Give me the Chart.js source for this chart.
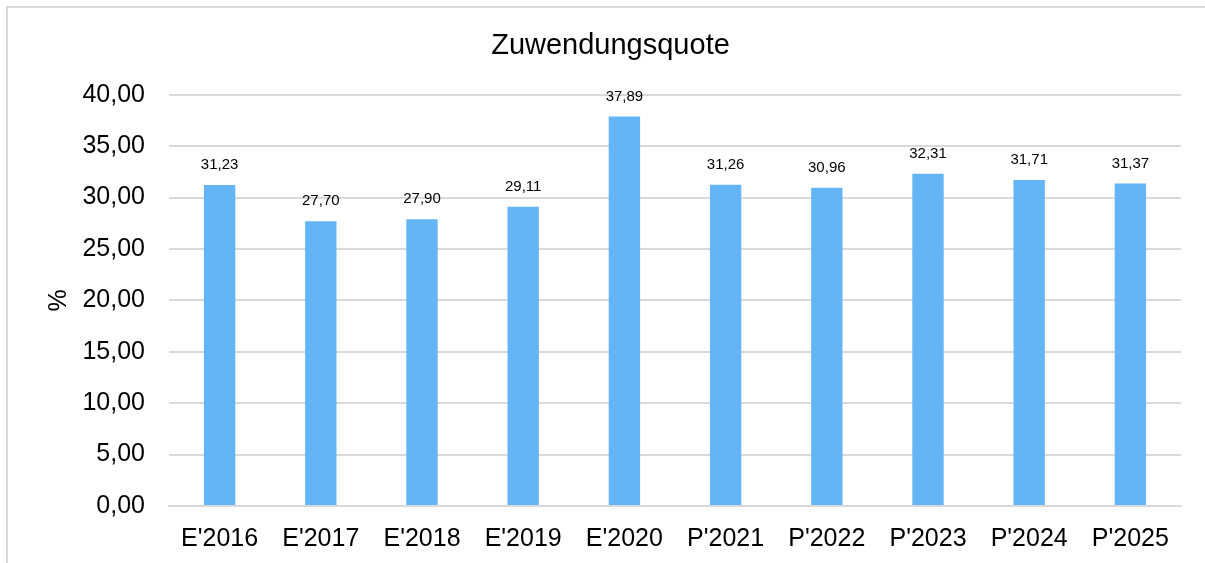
<!DOCTYPE html>
<html>
<head>
<meta charset="utf-8">
<script src="https://cdn.jsdelivr.net/npm/chart.js@4/dist/chart.umd.min.js"></script>
<style>
    html, body { margin: 0; padding: 0; background: #fff; overflow: hidden; }
    #frame {
        position: absolute; left: 6px; top: 6px; width: 1220px; height: 600px;
        border: 2px solid #d9d9d9; box-sizing: border-box;
    }
    #chart { position: absolute; left: 0; top: 0; }
</style>
</head>
<body>
<div id="frame"></div>
<canvas id="chart" width="1205" height="563"></canvas>
<script>
// Zuwendungsquote chart data
const categories = ["E'2016", "E'2017", "E'2018", "E'2019", "E'2020", "P'2021", "P'2022", "P'2023", "P'2024", "P'2025"];
const quoteValues = [31.23, 27.70, 27.90, 29.11, 37.89, 31.26, 30.96, 32.31, 31.71, 31.37];

const fmt = v => v.toFixed(2).replace('.', ',');

// Draw values above each bar
const valueLabels = {
    id: 'valueLabels',
    afterDatasetsDraw: function (chart) {
        const ctx = chart.ctx;
        const meta = chart.getDatasetMeta(0);
        ctx.save();
        ctx.font = '15px "Liberation Sans", Arial, sans-serif';
        ctx.fillStyle = '#000';
        ctx.textAlign = 'center';
        ctx.textBaseline = 'middle';
        meta.data.forEach((bar, i) => {
            ctx.fillText(fmt(quoteValues[i]), bar.x, bar.y - 20);
        });
        ctx.restore();
    }
};

new Chart(document.getElementById('chart'), {
    type: 'bar',
    data: {
        labels: categories,
        datasets: [{
            label: 'Zuwendungsquote',
            data: quoteValues,
            backgroundColor: '#63b5f6',
            borderWidth: 0,
            barPercentage: 0.31,
            categoryPercentage: 1
        }]
    },
    options: {
        responsive: false,
        animation: false,
        layout: {
            padding: { left: 40, right: 24, top: 10, bottom: -1 }
        },
        plugins: {
            legend: { display: false },
            tooltip: { enabled: false },
            title: {
                display: true,
                text: 'Zuwendungsquote',
                color: '#000',
                font: { family: '"Liberation Sans", Arial, sans-serif', size: 29, weight: 'normal' },
                padding: { top: 19, bottom: 31 }
            }
        },
        scales: {
            x: {
                grid: { display: false },
                border: { color: '#d9d9d9', width: 2 },
                ticks: {
                    color: '#000',
                    padding: 10,
                    maxRotation: 0,
                    font: { family: '"Liberation Sans", Arial, sans-serif', size: 25 }
                }
            },
            y: {
                min: 0,
                max: 40,
                afterFit: function (scale) { scale.width = 129; },
                grid: { color: '#d9d9d9', lineWidth: 2, drawTicks: false },
                border: { display: false },
                title: {
                    display: true,
                    text: '%',
                    color: '#000',
                    padding: { top: 4, bottom: 0 },
                    font: { family: '"Liberation Sans", Arial, sans-serif', size: 25 }
                },
                ticks: {
                    stepSize: 5,
                    color: '#000',
                    padding: 24,
                    font: { family: '"Liberation Sans", Arial, sans-serif', size: 25 },
                    callback: v => fmt(v)
                }
            }
        }
    },
    plugins: [valueLabels]
});
</script>
</body>
</html>
